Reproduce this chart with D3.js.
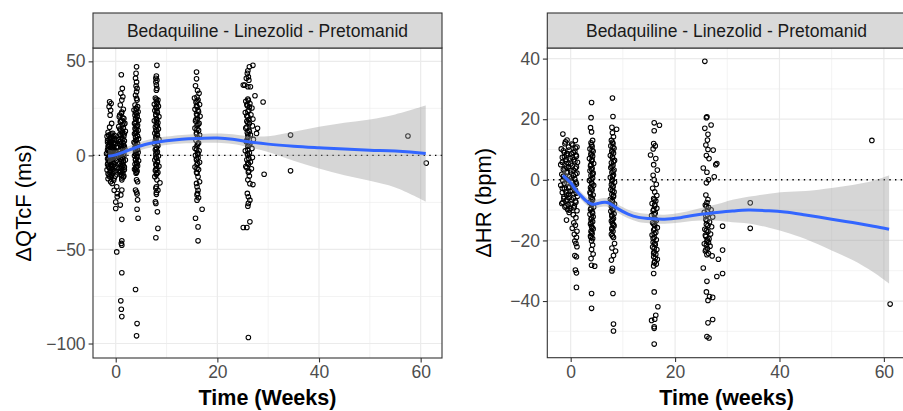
<!DOCTYPE html>
<html lang="en">
<head>
<meta charset="UTF-8">
<title>QTcF and HR change over time</title>
<script src="https://d3js.org/d3.v7.min.js"></script>
<style>
  body { margin: 0; background: #fff; }
  svg { display: block; }
  text { font-family: "Liberation Sans", Arial, sans-serif; }
</style>
</head>
<body>
<svg id="chart" width="903" height="411"></svg>
<script>
// ---- QTcF change from baseline (ms), [time in weeks, value] ----
var qtBaseline = [[-1.2,28.5],[-0.9,27.6],[-1.3,25.9],[-1.0,24.0],[-1.1,21.4],[-0.8,17.0],[-1.2,15.0],
  [-1.5,12.3],[-0.6,11.8],[-1.1,11.0],[-0.2,10.6],[-1.7,10.1],[-0.9,9.5],[-0.4,9.0],[-1.3,8.4],[0.1,8.0],[-1.0,7.5],
  [-1.6,7.0],[-0.5,6.6],[-0.1,6.1],[-1.2,5.5],[-0.7,5.0],[-1.5,4.6],[0.2,4.1],[-0.9,3.7],[-0.3,3.2],[-1.4,2.8],
  [-0.6,2.3],[-1.1,1.8],[0.0,1.4],[-1.8,1.0],[-0.8,0.5],[-0.4,0.1],[-1.3,-0.4],[-0.2,-0.9],[-1.0,-1.3],[-1.6,-1.8],
  [-0.6,-2.2],[0.1,-2.7],[-1.2,-3.1],[-0.8,-3.6],[-1.5,-4.0],[-0.3,-4.5],[-1.0,-5.0],[-0.5,-5.5],[-1.4,-6.1],[0.2,-6.6],
  [-0.9,-7.2],[-1.7,-7.7],[-0.2,-8.3],[-1.1,-8.9],[-0.6,-9.6],[-1.3,-10.3],[-0.1,-11.0],[-0.9,-11.6],[-1.5,-12.4],
  [-0.4,-13.2],[-1.0,-14.0],[-0.7,-14.9],[0.2,-16.7],[-0.3,-18.5],[0.3,-20.3],[0.3,-22.0],[0.0,-24.8],[0.0,-28.2],[0.2,-51.3],
  [-0.9,11.5],[-1.4,10.8],[-0.5,10.0],[-1.1,9.2],[-0.2,8.5],[-1.6,8.0],[-0.7,7.8],[-1.2,7.0],[-0.3,6.5],[-0.9,6.0],
  [-1.4,5.3],[-0.4,4.8],[-1.0,4.3],[-0.6,3.5],[-1.6,3.0],[-0.1,2.5],[-1.2,2.0],[-0.8,1.5],[-1.5,0.8],[-0.3,0.3],
  [-1.1,-0.2],[-0.6,-0.8],[-1.4,-1.5],[-0.1,-1.8],[-0.9,-2.5],[-1.2,-3.5],[-0.5,-4.0],[-1.6,-4.8],[-0.8,-5.4],
  [-0.2,-6.0],[-1.2,-6.8],[-0.6,-7.5],[-1.0,-8.2],[-0.4,-9.0],[-1.5,-9.8],[-0.8,-10.5],[-1.2,-11.3],[-0.3,-12.0]];
var qtWeek1 = [[1.1,42.9],[1.3,35.6],[1.0,33.0],[1.4,31.2],[1.2,29.4],[0.9,26.8],[1.5,24.5],[1.1,22.3],
  [0.7,20.5],[1.6,19.6],[1.2,18.7],[0.9,17.9],[1.8,17.0],[1.3,16.2],[0.6,15.3],[1.5,14.5],[1.0,13.6],[1.9,12.8],
  [1.3,11.9],[0.8,11.1],[1.6,10.2],[1.1,9.4],[0.6,8.5],[1.7,7.7],[1.2,6.8],[0.9,6.0],[1.5,5.1],[1.0,4.3],[1.8,3.4],
  [0.7,2.6],[1.3,1.7],[1.6,0.9],[1.0,0.0],[0.6,-0.8],[1.4,-1.7],[1.9,-2.5],[1.1,-3.4],[0.8,-4.2],[1.5,-5.1],[1.2,-5.9],
  [0.7,-6.8],[1.7,-7.6],[1.0,-8.5],[1.4,-9.3],[0.9,-10.2],[1.6,-11.0],[1.2,-12.0],
  [1.2,-13.0],[1.2,-18.4],[1.0,-21.0],[0.9,-26.4],[1.2,-34.0],[1.2,-45.4],[1.1,-46.8],[1.2,-47.7],[1.2,-62.4],
  [1.0,-77.3],[1.1,-81.8],[1.2,-85.7],
  [1.2,23.0],[0.8,21.5],[1.4,20.0],[1.0,18.2],[1.6,16.5],[0.8,14.0],[1.3,13.0],[1.7,11.5],[1.0,10.5],[1.4,8.8],
  [0.8,7.2],[1.5,6.5],[1.1,5.5],[1.7,4.8],[1.3,3.8],[0.9,3.0],[1.5,2.2],[1.1,1.2],[0.8,0.4],[1.6,-0.3],[1.2,-1.2],
  [0.9,-2.0],[1.5,-3.0],[1.3,-4.6],[1.0,-5.5],[1.7,-6.2],[1.1,-7.2],[1.4,-8.0],[0.8,-9.0],[1.2,-10.6],[1.5,-11.5]];
var qtWeek4 = [[4.1,47.1],[4.0,43.6],[3.9,41.0],[4.1,39.0],[4.0,36.9],[4.2,35.6],[4.1,33.8],[3.9,32.0],[4.1,30.3],[4.2,29.4],
  [3.8,26.8],[4.3,25.9],[4.0,25.0],[3.6,24.1],[4.4,23.2],[4.1,22.3],[3.8,21.4],[4.2,20.5],[3.9,19.6],[4.5,18.7],
  [4.0,17.8],[3.7,16.9],[4.3,16.0],[4.0,15.1],[3.8,14.2],[4.4,13.3],[4.1,12.4],[3.7,11.5],[4.2,10.6],[3.9,9.7],
  [4.5,8.8],[4.0,7.9],[3.6,7.0],[4.3,6.1],[4.0,5.2],[3.8,4.3],[4.2,3.4],[3.9,2.5],[4.4,1.6],[4.0,0.7],[3.7,-0.2],
  [4.2,-1.1],[3.9,-2.0],[4.5,-2.9],[4.1,-3.8],[3.8,-4.7],[4.3,-5.6],[4.0,-6.5],[3.7,-7.4],[4.2,-8.3],[4.0,-9.5],
  [4.1,-13.0],[4.3,-14.0],[3.9,-18.4],[4.1,-19.5],[4.2,-20.5],[4.3,-23.6],[4.2,-28.6],[4.4,-33.4],[3.9,-71.3],
  [4.2,-89.4],[4.1,-95.9],
  [4.1,24.5],[3.9,22.8],[4.2,21.0],[4.0,19.2],[3.8,17.3],[4.2,15.5],[4.0,13.8],[3.9,12.0],[4.3,10.2],[4.0,8.3],
  [3.8,6.5],[4.1,4.8],[4.3,3.0],[3.9,1.2],[4.1,-0.6],[3.9,-2.5],[4.2,-4.3],[4.0,-6.0],[3.9,-7.8],[4.1,-9.0]];
var qtWeek8 = [[8.1,47.9],[8.0,42.2],[7.9,41.0],[8.1,40.0],[7.9,39.0],[8.0,37.4],[8.1,35.6],[8.0,34.7],
  [7.8,30.5],[8.3,29.4],[8.0,28.3],[7.6,27.2],[8.4,26.1],[8.1,25.0],[7.7,23.9],[8.2,22.8],[7.9,21.7],[8.5,20.6],
  [8.0,19.5],[7.6,18.4],[8.3,17.3],[8.0,16.2],[7.8,15.1],[8.4,14.0],[8.1,12.9],[7.7,11.8],[8.2,10.7],[7.9,9.6],
  [8.5,8.5],[8.0,7.4],[7.6,6.3],[8.3,5.2],[8.0,4.1],[7.8,3.0],[8.2,1.9],[7.9,0.8],[8.4,-0.3],[8.0,-1.4],[7.7,-2.5],
  [8.2,-3.6],[7.9,-4.7],[8.5,-5.8],[8.1,-6.9],[7.8,-8.0],[8.3,-9.1],[8.0,-10.2],[7.7,-11.3],
  [8.1,-13.0],[8.7,-14.6],[8.0,-16.7],[7.9,-17.5],[8.3,-18.5],[8.0,-19.7],[8.0,-20.7],[7.8,-24.7],[7.9,-25.5],
  [8.2,-30.0],[8.3,-38.8],[7.9,-43.8],
  [8.0,29.8],[8.2,27.7],[7.9,25.5],[8.1,23.4],[7.9,21.2],[8.1,19.0],[8.0,17.8],[8.2,15.6],[7.9,13.5],[8.1,11.3],
  [8.0,9.1],[7.8,7.9],[8.2,5.8],[8.0,3.6],[8.1,1.4],[7.9,-0.9],[8.2,-3.0],[8.0,-5.2],[7.9,-7.4],[8.1,-9.6]];
var qtWeek16 = [[15.9,44.3],[15.9,40.7],[15.7,37.0],[16.1,34.5],[16.4,33.0],[16.0,31.0],[15.5,30.5],
  [16.2,29.4],[15.8,28.3],[16.5,27.0],[16.0,25.8],[15.6,24.5],[16.3,23.2],[15.9,22.0],[16.6,20.8],[16.1,19.5],
  [15.7,18.3],[16.4,17.0],[16.0,15.8],[15.6,14.5],[16.3,13.3],[15.9,12.0],[16.5,10.8],[16.1,9.5],
  [15.8,8.0],[16.3,6.5],[16.0,5.0],[15.6,3.8],[16.4,2.5],[16.1,1.2],[15.7,0.0],[16.2,-1.2],[15.9,-2.5],[16.5,-3.7],
  [16.0,-5.0],[15.6,-6.2],[16.3,-7.5],[15.9,-9.0],
  [16.0,-9.5],[16.2,-11.4],[16.5,-14.0],[15.9,-14.9],[16.0,-16.7],[16.2,-18.5],[16.1,-20.2],[16.0,-21.0],[16.3,-22.5],
  [16.0,-23.8],[17.0,-28.6],[15.7,-33.4],[16.2,-38.0],[16.2,-45.4],
  [16.0,28.8],[15.9,26.4],[16.2,24.0],[16.0,21.4],[15.8,19.0],[16.2,16.4],[16.0,14.0],[15.9,11.4],[16.1,6.0],
  [15.9,3.2],[16.2,0.6],[15.9,-1.8],[16.1,-4.2],[16.0,-6.8]];
var qtWeek26 = [[27.0,47.9],[26.3,47.1],[26.0,45.0],[25.9,43.6],[26.1,41.8],[25.7,41.0],[26.2,40.0],[25.4,37.4],
  [25.1,37.4],[26.5,36.5],[26.0,36.5],[27.4,31.7],[29.0,28.4],
  [26.0,30.0],[25.6,28.8],[26.4,27.6],[25.9,26.4],[26.8,25.2],[26.2,24.0],[25.5,22.8],[26.6,21.6],[26.0,20.5],
  [27.0,19.3],[25.8,18.1],[26.3,16.9],[26.9,15.7],[25.6,14.5],[27.9,14.4],[26.2,13.3],[27.7,11.7],[25.9,12.1],
  [26.5,10.9],[26.0,9.7],[27.1,8.5],[25.7,7.3],[26.4,6.1],[26.0,4.9],[26.8,3.7],[25.5,2.5],[26.3,1.3],[26.0,0.1],
  [26.9,-1.1],[25.8,-2.3],[26.5,-3.5],[26.1,-4.7],[25.6,-5.9],[26.7,-7.1],[26.2,-8.3],
  [29.2,-10.0],[26.0,-13.0],[26.4,-15.0],[27.0,-15.5],[25.9,-20.2],[26.1,-22.0],[26.4,-23.8],[26.1,-25.5],
  [26.0,-27.0],[26.4,-35.3],[25.1,-38.3],[25.8,-38.3],[26.1,-96.8],
  [26.1,29.3],[25.8,27.0],[26.3,25.8],[26.0,23.4],[25.8,21.0],[26.2,19.0],[26.0,17.5],[25.8,15.0],[26.3,12.7],
  [26.0,11.0],[25.8,8.0],[26.2,5.5],[26.0,3.0],[25.9,0.8],[26.2,-1.7],[26.0,-4.0],[25.8,-6.5],[26.1,-9.0],[26.3,-11.0]];
var qtLate = [[34.4,10.8],[34.4,-8.2],[57.5,10.3],[61.1,-4.1]];

// loess fit with confidence band, QTcF
var qtSmoothTime = [-1.5, 0, 2, 4, 6, 8, 10, 13, 16, 20, 23, 26, 30, 35, 40, 45, 50, 55, 61];
var qtSmoothFit  = [-0.5, 0.3, 2.2, 4.2, 5.9, 7.0, 7.8, 8.6, 9.0, 9.2, 8.6, 7.3, 6.0, 4.9, 4.1, 3.4, 2.8, 2.4, 1.0];
var qtSmoothLow  = [-4.0, -2.2, 0.0, 2.0, 3.7, 4.8, 5.6, 6.3, 6.6, 6.7, 6.0, 4.4, 1.8, -2.8, -7.0, -10.5, -13.5, -17.0, -24.5];
var qtSmoothHigh = [3.0, 2.8, 4.4, 6.4, 8.1, 9.2, 10.0, 10.9, 11.4, 11.7, 11.2, 10.2, 10.2, 12.6, 15.2, 17.3, 19.1, 21.8, 26.5];

// ---- HR change from baseline (bpm) ----
var hrBaseline = [[-1.5,15.1],[-0.7,13.1],[0.9,13.0],[-1.1,11.9],[0.4,11.5],[1.2,10.8],
  [-1.8,10.2],[-0.3,9.8],[0.8,9.4],[-1.2,9.0],[0.2,8.6],[-0.8,8.2],[1.1,7.8],[-1.6,7.4],[-0.1,7.0],[0.6,6.6],
  [-1.0,6.2],[1.3,5.8],[-0.5,5.4],[-1.9,5.0],[0.3,4.6],[-0.9,4.2],[0.9,3.8],[-1.4,3.4],[0.0,3.0],[-0.6,2.6],
  [1.2,2.2],[-1.7,1.8],[0.5,1.4],[-0.2,1.0],[-1.1,0.6],[0.8,0.2],[-1.5,-0.2],[0.1,-0.6],[-0.7,-1.0],[1.1,-1.4],
  [-1.9,-1.8],[0.4,-2.2],[-0.4,-2.6],[-1.2,-3.0],[0.9,-3.4],[-0.1,-3.8],[-1.6,-4.2],[0.6,-4.6],[-0.8,-5.0],
  [1.3,-5.4],[-0.3,-5.8],[-1.3,-6.2],[0.2,-6.6],[-0.9,-7.0],[1.0,-7.4],[-1.7,-7.8],[-0.5,-8.2],[0.7,-8.6],
  [-1.1,-9.0],[0.0,-9.4],[-0.6,-9.8],[1.2,-10.2],
  [-0.3,-10.8],[0.5,-11.5],[1.0,-12.5],[-0.8,-13.3],[0.6,-14.2],[0.9,-15.0],[0.3,-16.0],[1.2,-17.0],[0.7,-18.0],
  [1.1,-19.0],[0.8,-20.2],[1.0,-21.0],[1.2,-22.1],[0.8,-25.0],[1.1,-25.4],[0.9,-29.8],[1.1,-30.7],[1.1,-35.5],
  [-1.0,12.5],[0.2,11.8],[-0.4,10.8],[0.9,10.5],[-1.4,9.6],[0.5,9.0],[-0.6,8.7],[1.0,8.2],[-1.2,7.6],[0.3,7.4],
  [-0.9,6.8],[0.8,6.0],[-1.6,5.8],[0.0,5.2],[-0.4,4.4],[1.1,4.2],[-1.1,3.6],[0.5,3.2],[-0.8,2.4],[0.9,1.8],
  [-1.4,1.2],[0.2,0.6],[-0.5,0.0],[1.0,-0.8],[-1.2,-1.2],[0.6,-1.8],[-0.2,-2.4],[-1.6,-2.8],[0.3,-3.6],[-0.9,-4.0],
  [1.1,-4.4],[-0.4,-4.8],[-1.3,-5.6],[0.5,-6.0],[-0.7,-6.6],[0.9,-7.0],[-1.5,-7.4],[0.1,-8.0],[-0.9,-8.6],
  [0.6,-9.2],[-0.3,-10.0]];
var hrWeek4 = [[4.0,25.5],[3.9,20.5],[3.8,17.2],[4.0,15.8],[4.2,13.0],[3.9,12.2],
  [4.1,11.0],[3.7,10.2],[4.3,9.4],[3.9,8.6],[4.2,7.8],[3.6,7.0],[4.0,6.2],[4.4,5.4],[3.8,4.6],[4.1,3.8],[3.7,3.0],
  [4.3,2.2],[3.9,1.4],[4.2,0.6],[3.6,-0.2],[4.0,-1.0],[4.4,-1.8],[3.8,-2.6],[4.1,-3.4],[3.7,-4.2],[4.3,-5.0],
  [3.9,-5.8],[4.2,-6.6],[3.6,-7.4],[4.0,-8.2],[4.4,-9.0],[3.8,-9.8],[4.1,-10.6],[3.7,-11.4],[4.3,-12.2],[3.9,-13.0],
  [4.2,-13.8],[3.8,-14.6],[4.0,-15.4],[4.3,-16.2],[3.9,-17.0],[4.1,-17.8],[3.8,-18.6],[4.2,-19.4],[4.0,-20.2],
  [4.2,-21.5],[4.0,-23.0],[4.3,-24.5],[3.9,-26.0],[4.0,-28.2],[4.6,-28.5],[4.0,-37.5],[4.0,-42.4],
  [4.0,11.6],[4.1,9.8],[3.9,8.2],[4.1,6.6],[3.9,5.0],[4.0,3.4],[4.2,1.8],[3.9,0.2],[4.1,-1.4],[4.0,-3.0],
  [3.8,-4.6],[4.1,-6.2],[4.0,-7.8],[3.9,-9.4],[4.2,-11.0],[4.0,-12.6],[3.9,-14.2],[4.1,-15.8],[4.0,-17.4],[3.9,-19.0]];
var hrWeek8 = [[8.0,27.0],[8.1,20.9],[7.9,17.3],[8.8,16.7],[8.0,15.5],[8.2,14.2],[7.8,13.0],
  [8.1,12.0],[7.7,11.2],[8.3,10.4],[7.9,9.6],[8.2,8.8],[7.6,8.0],[8.0,7.2],[8.4,6.4],[7.8,5.6],[8.1,4.8],[7.7,4.0],
  [8.3,3.2],[7.9,2.4],[8.2,1.6],[7.6,0.8],[8.0,0.0],[8.4,-0.8],[7.8,-1.6],[8.1,-2.4],[7.7,-3.2],[8.3,-4.0],
  [7.9,-4.8],[8.2,-5.6],[7.6,-6.4],[8.0,-7.2],[8.4,-8.0],[7.8,-8.8],[8.1,-9.6],[7.7,-10.4],[8.3,-11.2],[7.9,-12.0],
  [8.2,-12.8],[7.8,-13.6],[8.0,-14.4],[8.3,-15.2],[7.9,-16.0],[8.1,-17.0],[7.8,-18.0],[8.2,-19.0],
  [8.4,-21.0],[7.9,-22.5],[8.6,-23.5],[8.2,-25.0],[7.8,-26.5],[8.0,-29.2],[7.9,-30.1],[8.1,-37.5],[8.2,-47.6],[8.2,-49.9],
  [8.0,12.4],[8.1,10.8],[7.9,9.2],[8.0,7.6],[8.2,6.0],[7.9,4.4],[8.1,2.8],[8.0,1.2],[7.9,-0.4],[8.1,-2.0],
  [8.0,-3.6],[8.2,-5.2],[7.9,-6.8],[8.0,-8.4],[8.1,-10.0],[7.9,-11.6],[8.0,-13.2],[8.2,-14.8],[7.9,-16.4],[8.0,-18.5]];
var hrWeek16 = [[16.0,18.8],[17.0,18.0],[16.0,16.2],[15.9,12.0],[16.2,11.2],[15.8,10.2],[15.3,8.2],[16.3,7.0],
  [15.9,5.0],[16.6,3.2],[15.8,1.5],[16.0,0.0],[16.4,-1.5],[15.7,-2.8],[16.1,-4.0],[16.5,-5.2],
  [15.9,-6.2],[16.3,-7.0],[15.6,-7.8],[16.1,-8.6],[16.5,-9.4],[15.8,-10.2],[16.2,-11.0],[15.5,-11.8],[16.0,-12.6],
  [16.4,-13.4],[15.7,-14.2],[16.1,-15.0],[16.6,-15.8],[15.9,-16.6],[16.3,-17.4],[15.6,-18.2],[16.0,-19.0],
  [16.4,-19.8],[15.8,-20.6],[16.2,-21.4],[15.7,-22.2],[16.5,-23.0],[16.0,-23.8],[16.3,-24.6],[15.9,-25.4],
  [16.6,-26.2],[16.1,-27.0],[16.4,-27.8],
  [15.9,-30.9],[16.0,-37.0],[16.7,-41.9],[16.3,-44.7],[15.5,-46.4],[16.1,-46.0],[16.0,-48.5],[16.0,-49.0],[16.0,-54.2],
  [16.0,-6.6],[16.1,-8.2],[15.9,-9.8],[16.0,-11.4],[16.2,-13.0],[15.9,-14.6],[16.1,-16.2],[16.0,-17.8],
  [15.8,-19.4],[16.1,-21.0],[16.0,-22.6],[15.9,-24.2],[16.2,-25.8],[16.0,-27.4],[15.9,-28.4]];
var hrWeek26 = [[25.7,39.1],[26.1,20.8],[26.0,20.5],[25.7,17.0],[26.9,18.1],[26.3,15.0],[26.2,13.1],[25.9,11.5],
  [26.3,10.0],[27.3,9.8],[26.0,8.0],[26.5,7.0],[28.0,5.4],[27.8,5.0],[25.4,3.9],[26.1,2.5],[27.5,1.0],[26.4,0.0],
  [26.0,-1.0],[25.9,-5.0],[26.3,-6.5],[26.1,-7.5],
  [25.8,-8.3],[26.4,-9.1],[26.9,-9.9],[25.6,-10.7],[26.2,-11.5],[27.2,-12.3],[25.9,-13.1],[26.6,-13.9],[26.0,-14.7],
  [27.0,-15.5],[25.7,-16.3],[26.3,-17.1],[26.8,-17.9],[25.9,-18.7],[26.5,-19.5],[26.1,-20.3],[25.6,-21.1],
  [26.7,-21.9],[26.2,-22.7],[25.8,-23.5],[26.4,-24.3],[27.1,-25.1],
  [29.1,-15.3],[29.1,-23.2],[28.3,-26.2],[25.4,-29.1],[28.0,-31.9],[29.1,-30.9],[26.1,-33.5],[26.0,-37.0],
  [26.6,-38.5],[26.3,-39.8],[27.2,-38.8],[27.2,-46.1],[26.3,-47.2],[26.1,-51.7],[26.5,-52.2],
  [26.0,-8.7],[26.2,-10.3],[25.9,-11.9],[26.1,-13.5],[26.3,-15.1],[26.0,-16.7],[25.8,-18.3],[26.2,-19.9],
  [26.0,-21.5],[25.9,-23.1],[26.1,-24.7],[26.4,-20.7]];
var hrLate = [[34.4,-7.6],[34.4,-16.0],[57.7,13.0],[61.2,-41.0]];

// loess fit with confidence band, HR
var hrSmoothTime = [-1.5, 0, 1, 2, 3, 4, 5, 6, 7, 8, 9, 11, 13, 15, 18, 21, 24, 28, 31, 34, 38, 41, 45, 50, 54, 58, 61];
var hrSmoothFit  = [1.5, -1.0, -3.4, -5.3, -7.0, -8.0, -7.9, -7.5, -7.5, -8.3, -9.5, -11.3, -12.4, -12.8, -13.0, -12.5, -11.6, -10.8, -10.3, -10.0, -10.2, -10.6, -11.6, -13.0, -14.1, -15.3, -16.3];
var hrSmoothLow  = [-1.2, -2.8, -4.8, -6.6, -8.3, -9.3, -9.3, -8.9, -8.9, -9.7, -10.9, -12.7, -13.9, -14.3, -14.5, -14.1, -13.5, -13.5, -14.0, -14.4, -15.8, -17.2, -19.5, -23.3, -26.5, -30.5, -34.2];
var hrSmoothHigh = [4.2, 0.8, -2.0, -4.0, -5.7, -6.7, -6.5, -6.1, -6.1, -6.9, -8.1, -9.9, -10.9, -11.3, -11.5, -10.9, -9.7, -8.1, -6.6, -5.6, -4.6, -4.0, -3.7, -2.7, -1.7, -0.3, 1.5];

var stripLabel = "Bedaquiline - Linezolid - Pretomanid";
var timeTicks = [0, 20, 40, 60];
var timeMinor = [10, 30, 50];
var qtTicks = [-100, -50, 0, 50];
var qtMinor = [-75, -25, 25];
var hrTicks = [-40, -20, 0, 20, 40];
var hrMinor = [-50, -30, -10, 10, 30];

var svg = d3.select("#chart");

function drawPanel(p) {
  var g = svg.append("g");
  var x = d3.scaleLinear().domain(p.xDomain).range([p.left, p.right]);
  var y = d3.scaleLinear().domain(p.yDomain).range([p.bottom, p.top]);

  g.append("rect").attr("x", p.left).attr("y", p.top)
    .attr("width", p.right - p.left).attr("height", p.bottom - p.top).attr("fill", "#fff");

  // grid
  g.selectAll(".xminor").data(timeMinor).enter().append("line")
    .attr("x1", x).attr("x2", x).attr("y1", p.top).attr("y2", p.bottom)
    .attr("stroke", "#ebebeb").attr("stroke-width", 0.6);
  g.selectAll(".yminor").data(p.yMinor).enter().append("line")
    .attr("y1", y).attr("y2", y).attr("x1", p.left).attr("x2", p.right)
    .attr("stroke", "#ebebeb").attr("stroke-width", 0.6);
  g.selectAll(".xmajor").data(timeTicks).enter().append("line")
    .attr("x1", x).attr("x2", x).attr("y1", p.top).attr("y2", p.bottom)
    .attr("stroke", "#ebebeb").attr("stroke-width", 1.2);
  g.selectAll(".ymajor").data(p.yTicks).enter().append("line")
    .attr("y1", y).attr("y2", y).attr("x1", p.left).attr("x2", p.right)
    .attr("stroke", "#ebebeb").attr("stroke-width", 1.2);

  // points
  g.selectAll(".pt").data(p.points).enter().append("circle")
    .attr("cx", function(d){ return x(d[0]) })
    .attr("cy", function(d){ return y(d[1]) })
    .attr("r", 2.3)
    .attr("fill", "none").attr("stroke", "#000").attr("stroke-width", 1.05);

  // zero reference
  g.append("line").attr("x1", p.left).attr("x2", p.right)
    .attr("y1", y(0)).attr("y2", y(0))
    .attr("stroke", "#000").attr("stroke-width", 1.4).attr("stroke-dasharray", "1.4,4.3");

  // smooth + band
  var smooth = p.smoothTime.map(function(t, i){
    return {t: t, fit: p.smoothFit[i], lo: p.smoothLow[i], hi: p.smoothHigh[i]};
  });
  var band = d3.area().curve(d3.curveCatmullRom)
    .x(function(d){ return x(d.t) })
    .y0(function(d){ return y(d.lo) })
    .y1(function(d){ return y(d.hi) });
  g.append("path").datum(smooth).attr("d", band)
    .attr("fill", "#999999").attr("fill-opacity", 0.4);
  var line = d3.line().curve(d3.curveCatmullRom)
    .x(function(d){ return x(d.t) })
    .y(function(d){ return y(d.fit) });
  g.append("path").datum(smooth).attr("d", line)
    .attr("fill", "none").attr("stroke", "#3366ff").attr("stroke-width", 3);

  // panel border
  g.append("rect").attr("x", p.left).attr("y", p.top)
    .attr("width", p.right - p.left).attr("height", p.bottom - p.top)
    .attr("fill", "none").attr("stroke", "#333").attr("stroke-width", 1.1);

  // strip
  g.append("rect").attr("x", p.left).attr("y", 13)
    .attr("width", p.right - p.left).attr("height", p.top - 13)
    .attr("fill", "#d9d9d9").attr("stroke", "#333").attr("stroke-width", 1.1);
  g.append("text").attr("x", (p.left + p.right) / 2).attr("y", 37)
    .attr("text-anchor", "middle").attr("font-size", 17.5).attr("fill", "#1a1a1a")
    .text(stripLabel);

  // axes
  var xAxis = g.append("g").attr("transform", "translate(0," + p.bottom + ")")
    .call(d3.axisBottom(x).tickValues(timeTicks).tickSize(4.4).tickPadding(3).tickFormat(d3.format("d")));
  var yAxis = g.append("g").attr("transform", "translate(" + p.left + ",0)")
    .call(d3.axisLeft(y).tickValues(p.yTicks).tickSize(4.4).tickPadding(3).tickFormat(d3.format("d")));
  [xAxis, yAxis].forEach(function(a){
    a.select(".domain").remove();
    a.selectAll(".tick line").attr("stroke", "#333").attr("stroke-width", 1.1);
    a.selectAll(".tick text").attr("fill", "#4d4d4d").attr("font-size", 17.5)
      .attr("font-family", "'Liberation Sans', Arial, sans-serif");
  });

  // titles
  g.append("text").attr("x", (p.left + p.right) / 2).attr("y", 405)
    .attr("text-anchor", "middle").attr("font-size", 21.5).attr("font-weight", "bold").attr("fill", "#000")
    .text(p.xTitle);
  g.append("text")
    .attr("transform", "translate(" + p.yTitleX + "," + ((p.top + p.bottom) / 2) + ") rotate(-90)")
    .attr("text-anchor", "middle").attr("font-size", 22).attr("fill", "#000")
    .text(p.yTitle);
}

drawPanel({
  left: 93, right: 442, top: 48, bottom: 358,
  xDomain: [-4.47, 64.2], yDomain: [-107.7, 57.1],
  yTicks: qtTicks, yMinor: qtMinor,
  points: [].concat(qtBaseline, qtWeek1, qtWeek4, qtWeek8, qtWeek16, qtWeek26, qtLate),
  smoothTime: qtSmoothTime, smoothFit: qtSmoothFit, smoothLow: qtSmoothLow, smoothHigh: qtSmoothHigh,
  xTitle: "Time (Weeks)", yTitle: "ΔQTcF (ms)", yTitleX: 31
});

drawPanel({
  left: 547.3, right: 905.8, top: 48, bottom: 357.7,
  xDomain: [-4.48, 64.2], yDomain: [-58.7, 43.5],
  yTicks: hrTicks, yMinor: hrMinor,
  points: [].concat(hrBaseline, hrWeek4, hrWeek8, hrWeek16, hrWeek26, hrLate),
  smoothTime: hrSmoothTime, smoothFit: hrSmoothFit, smoothLow: hrSmoothLow, smoothHigh: hrSmoothHigh,
  xTitle: "Time (weeks)", yTitle: "ΔHR (bpm)", yTitleX: 491
});
</script>
</body>
</html>
